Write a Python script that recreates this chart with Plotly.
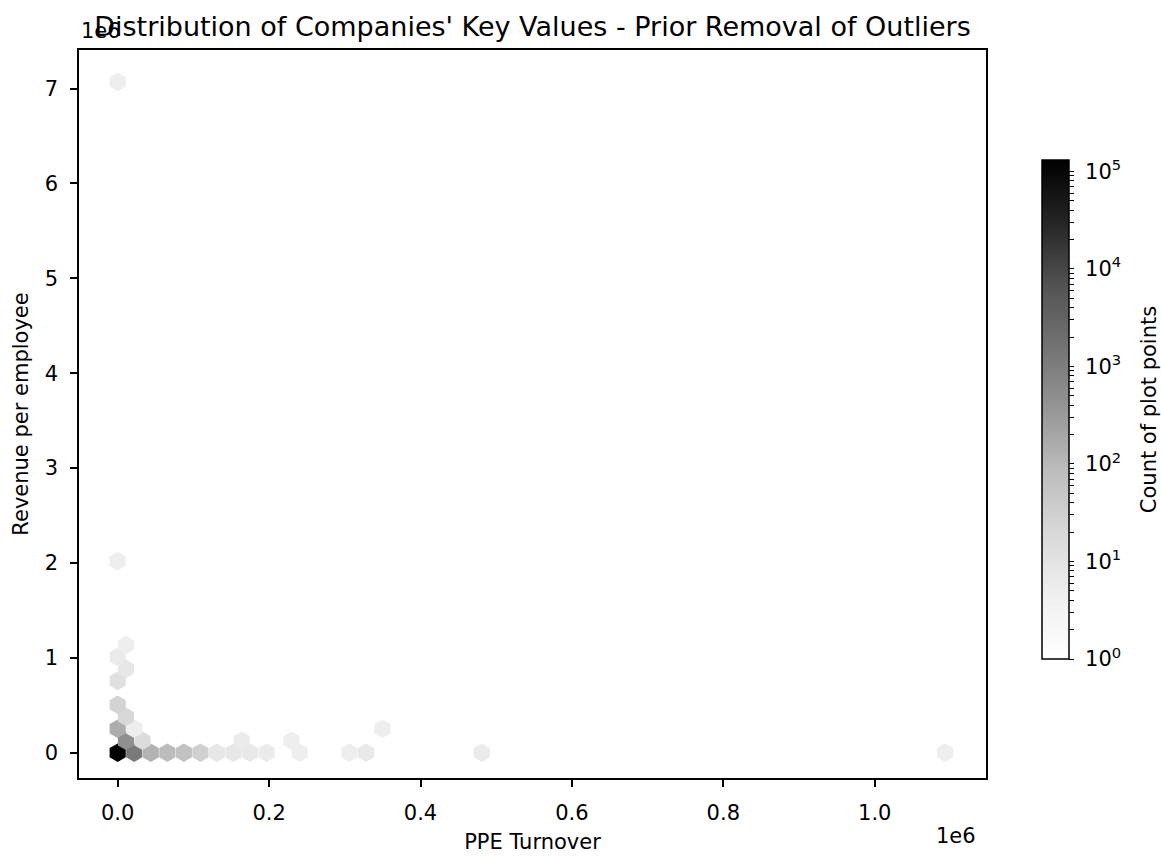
import numpy as np
import plotly.graph_objects as go

# ---- data: hexbin cells (centre x, centre y, count) ----
ppe_turnover = [0, 21860, 43720, 65580, 87440, 109300, 131160, 153020, 174880, 196740,
                240460, 306040, 327900, 480920, 1093000,
                10930, 32790, 163950, 229530,
                0, 21860, 349760,
                10930, 0, 0, 10930, 0, 10930, 0, 0]
revenue_per_employee = [0, 0, 0, 0, 0, 0, 0, 0, 0, 0,
                        0, 0, 0, 0, 0,
                        126250, 126250, 126250, 126250,
                        252500, 252500, 252500,
                        378750, 505000, 757500, 883750, 1010000, 1136250, 2020000, 7070000]
point_counts = [131000, 1200, 120, 86, 64, 31, 8, 8, 7, 6,
                5, 5, 7, 6, 5,
                490, 16, 6, 5,
                150, 5, 5,
                20, 26, 12, 8, 6, 5, 5, 5]

x_tick_values = [0, 200000, 400000, 600000, 800000, 1000000]
x_tick_labels = ["0.0", "0.2", "0.4", "0.6", "0.8", "1.0"]
y_tick_values = [0, 1e6, 2e6, 3e6, 4e6, 5e6, 6e6, 7e6]
y_tick_labels = ["0", "1", "2", "3", "4", "5", "6", "7"]
cbar_decades = [0, 1, 2, 3, 4, 5]

FONT = "DejaVu Sans"
NB = "\u00a0"
greys = [[0, "#ffffff"], [0.125, "#f0f0f0"], [0.25, "#d9d9d9"], [0.375, "#bdbdbd"],
         [0.5, "#969696"], [0.625, "#737373"], [0.75, "#525252"], [0.875, "#252525"],
         [1, "#000000"]]

log_counts = np.log10(point_counts)
cmax = float(np.log10(max(point_counts)))

# colorbar ticks: decades labelled, minor ticks unlabelled
cb_vals, cb_text = [], []
for k in cbar_decades:
    cb_vals.append(k)
    cb_text.append(f"{NB}10<sup>{k}</sup>{NB}{NB}")
    for m in range(2, 10):
        v = k + np.log10(m)
        if v <= cmax:
            cb_vals.append(v)
            cb_text.append("")

W, H = 1161, 857
L, R, T, B = 79, 175, 50, 79
pw, ph = W - L - R, H - T - B

fig = go.Figure()
fig.add_trace(go.Scatter(
    x=ppe_turnover, y=revenue_per_employee, mode="markers",
    marker=dict(
        symbol="hexagon", size=17,
        color=log_counts, colorscale=greys, cmin=0, cmax=cmax,
        line=dict(width=1.4, color=log_counts, colorscale=greys, cmin=0, cmax=cmax),
        colorbar=dict(
            x=(1042 - L) / pw, xanchor="left", xpad=0,
            y=(H - B - 409.5) / ph, yanchor="middle", ypad=0,
            len=499, lenmode="pixels", thickness=27,
            outlinewidth=1.5, outlinecolor="#000000",
            tickmode="array", tickvals=cb_vals, ticktext=cb_text,
            ticks="outside", ticklen=5, tickwidth=1, tickcolor="#000000",
            tickfont=dict(family=FONT, size=21, color="#000000"),
            title=dict(text="Count of plot points", side="right",
                       font=dict(family=FONT, size=21, color="#000000")),
        ),
    ),
    hoverinfo="x+y+text", text=[str(c) for c in point_counts],
    showlegend=False,
))

axis_common = dict(
    showgrid=False, zeroline=False, showline=True, linecolor="#000000", linewidth=1.5,
    mirror=True, ticks="outside", ticklen=7, tickwidth=1.5, tickcolor="#000000",
    tickfont=dict(family=FONT, size=21, color="#000000"), automargin=False,
)

fig.update_layout(
    width=W, height=H,
    margin=dict(l=L, r=R, t=T, b=B, pad=0, autoexpand=False),
    paper_bgcolor="white", plot_bgcolor="white",
    title=dict(text="Distribution of Companies' Key Values - Prior Removal of Outliers",
               x=0.5, xanchor="center", xref="paper",
               y=1 - 27 / H, yanchor="middle", yref="container",
               font=dict(family=FONT, size=27, color="#000000")),
    xaxis=dict(range=[-51100, 1147000], tickmode="array", tickvals=x_tick_values,
               ticktext=x_tick_labels, ticklabelstandoff=8,
               title=dict(text="PPE Turnover", standoff=10,
                          font=dict(family=FONT, size=21, color="#000000")),
               **axis_common),
    yaxis=dict(range=[-266600, 7407000], tickmode="array", tickvals=y_tick_values,
               ticktext=y_tick_labels, ticklabelstandoff=8,
               title=dict(text="Revenue per employee", standoff=10,
                          font=dict(family=FONT, size=21, color="#000000")),
               **axis_common),
    annotations=[
        dict(text="1e6", xref="paper", yref="paper", x=0, y=1, xanchor="left",
             yanchor="middle", yshift=19, showarrow=False,
             font=dict(family=FONT, size=21, color="#000000")),
        dict(text="1e6", xref="paper", yref="paper", x=1, y=0, xanchor="right",
             yanchor="middle", yshift=-58, xshift=-8, showarrow=False,
             font=dict(family=FONT, size=21, color="#000000")),
    ],
)

fig.write_html("out.html")
